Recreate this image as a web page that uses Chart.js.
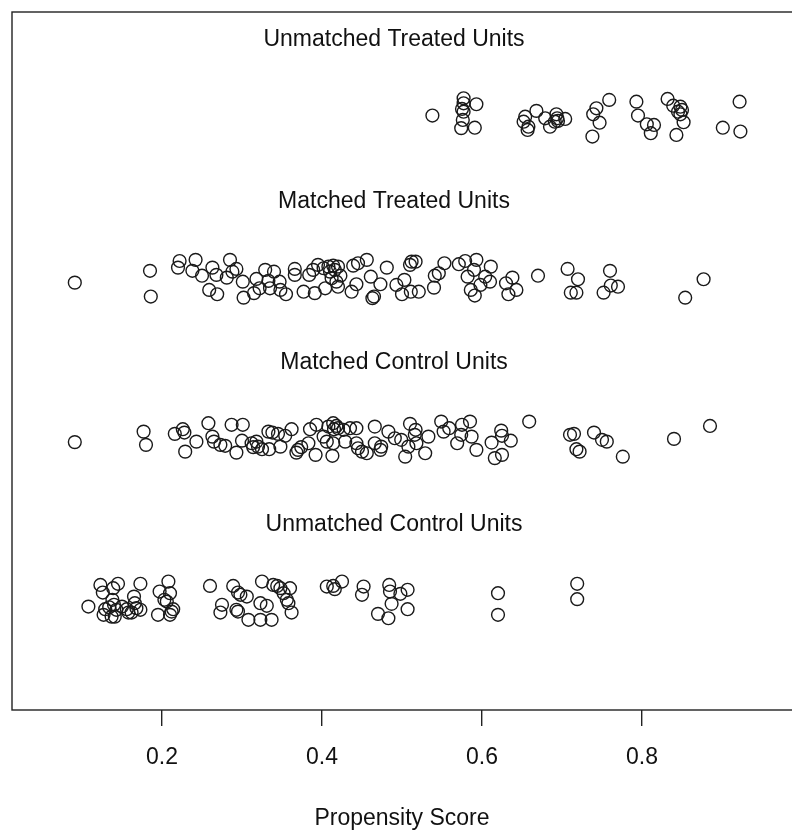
<!DOCTYPE html>
<html>
<head>
<meta charset="utf-8">
<script src="https://cdn.jsdelivr.net/npm/chart.js@4/dist/chart.umd.min.js"></script>
<style>
  body { margin: 0; background: #fff; }
  #wrap { width: 792px; height: 835px; }
</style>
</head>
<body>
<div id="wrap"><canvas id="jitter" width="792" height="835"></canvas></div>
<script>
// group titles and where they sit on the y scale
var groupLabels = ['Unmatched Treated Units', 'Matched Treated Units', 'Matched Control Units', 'Unmatched Control Units'];
var groupLabelY = [4, 3, 2, 1];

var tickValues = [0.2, 0.4, 0.6, 0.8];
var tickLabels = ['0.2', '0.4', '0.6', '0.8'];
var xTitle = 'Propensity Score';

// [propensity score, jittered y]
var unmatchedTreated = [
    [0.538,3.519],[0.577,3.626],[0.577,3.595],[0.575,3.560],[0.577,3.543],[0.576,3.492],[0.574,3.441],
    [0.593,3.589],[0.591,3.444],[0.654,3.512],[0.652,3.481],[0.658,3.450],[0.657,3.430],[0.668,3.548],
    [0.679,3.502],[0.685,3.450],[0.693,3.527],[0.694,3.502],[0.695,3.486],[0.691,3.481],[0.704,3.498],
    [0.759,3.616],[0.743,3.564],[0.739,3.527],[0.747,3.475],[0.738,3.389],[0.793,3.605],[0.795,3.519],
    [0.806,3.465],[0.815,3.461],[0.811,3.410],[0.832,3.622],[0.839,3.580],[0.848,3.574],[0.850,3.554],
    [0.848,3.527],[0.852,3.478],[0.843,3.399],[0.845,3.543],[0.922,3.605],[0.901,3.444],[0.923,3.420]
];

var matchedTreated = [
    [0.091,2.485],[0.185,2.558],[0.186,2.399],[0.222,2.619],[0.220,2.578],[0.242,2.626],[0.238,2.558],
    [0.250,2.528],[0.263,2.578],[0.268,2.533],[0.259,2.440],[0.269,2.413],[0.285,2.626],[0.281,2.516],
    [0.288,2.553],[0.293,2.570],[0.301,2.491],[0.302,2.392],[0.315,2.420],[0.318,2.508],[0.322,2.450],
    [0.329,2.564],[0.333,2.496],[0.335,2.450],[0.340,2.553],[0.347,2.491],[0.348,2.440],[0.355,2.413],
    [0.366,2.570],[0.366,2.533],[0.377,2.429],[0.384,2.533],[0.389,2.564],[0.391,2.420],[0.395,2.595],
    [0.402,2.574],[0.404,2.450],[0.408,2.584],[0.410,2.553],[0.412,2.512],[0.414,2.590],[0.416,2.564],
    [0.418,2.491],[0.420,2.584],[0.420,2.460],[0.423,2.528],[0.437,2.429],[0.439,2.590],[0.443,2.475],
    [0.445,2.605],[0.456,2.626],[0.461,2.522],[0.463,2.389],[0.465,2.399],[0.473,2.475],[0.481,2.578],
    [0.493,2.471],[0.503,2.502],[0.500,2.413],[0.510,2.595],[0.512,2.615],[0.517,2.615],[0.511,2.429],
    [0.521,2.429],[0.540,2.454],[0.541,2.528],[0.546,2.543],[0.553,2.605],[0.571,2.599],[0.579,2.619],
    [0.582,2.522],[0.586,2.440],[0.590,2.564],[0.593,2.626],[0.591,2.405],[0.598,2.471],[0.604,2.522],
    [0.611,2.584],[0.610,2.491],[0.630,2.481],[0.633,2.413],[0.638,2.516],[0.643,2.440],[0.670,2.528],
    [0.707,2.570],[0.720,2.506],[0.711,2.423],[0.718,2.423],[0.760,2.558],[0.761,2.467],[0.770,2.460],
    [0.752,2.423],[0.877,2.506],[0.854,2.392]
];

var matchedControl = [
    [0.091,1.498],[0.177,1.563],[0.180,1.481],[0.216,1.549],[0.226,1.578],[0.228,1.557],[0.243,1.501],
    [0.229,1.439],[0.258,1.615],[0.263,1.532],[0.265,1.501],[0.273,1.481],[0.279,1.475],[0.287,1.605],
    [0.301,1.605],[0.293,1.433],[0.300,1.507],[0.312,1.491],[0.314,1.467],[0.318,1.501],[0.320,1.470],
    [0.325,1.454],[0.333,1.563],[0.334,1.454],[0.338,1.557],[0.345,1.549],[0.348,1.470],[0.354,1.537],
    [0.362,1.578],[0.368,1.433],[0.370,1.450],[0.374,1.467],[0.385,1.578],[0.383,1.491],[0.393,1.605],
    [0.392,1.419],[0.402,1.532],[0.406,1.501],[0.408,1.594],[0.414,1.615],[0.415,1.578],[0.418,1.598],
    [0.420,1.584],[0.413,1.413],[0.414,1.491],[0.427,1.574],[0.429,1.501],[0.435,1.584],[0.443,1.584],
    [0.443,1.491],[0.445,1.460],[0.450,1.439],[0.456,1.429],[0.466,1.594],[0.466,1.491],[0.474,1.470],
    [0.473,1.450],[0.483,1.563],[0.491,1.522],[0.499,1.512],[0.504,1.408],[0.508,1.470],[0.510,1.611],
    [0.517,1.574],[0.516,1.543],[0.518,1.491],[0.529,1.429],[0.533,1.532],[0.549,1.625],[0.552,1.563],
    [0.559,1.584],[0.569,1.491],[0.574,1.543],[0.575,1.605],[0.585,1.625],[0.587,1.532],[0.593,1.450],
    [0.612,1.495],[0.624,1.569],[0.625,1.537],[0.636,1.507],[0.616,1.399],[0.625,1.419],[0.659,1.625],
    [0.710,1.543],[0.715,1.549],[0.718,1.454],[0.722,1.439],[0.740,1.557],[0.750,1.512],[0.756,1.501],
    [0.776,1.408],[0.840,1.518],[0.885,1.598]
];

var unmatchedControl = [
    [0.108,0.480],[0.123,0.614],[0.126,0.567],[0.129,0.464],[0.127,0.429],[0.134,0.476],[0.137,0.418],
    [0.139,0.594],[0.145,0.621],[0.138,0.522],[0.140,0.491],[0.143,0.460],[0.141,0.418],[0.150,0.480],
    [0.156,0.464],[0.158,0.443],[0.165,0.542],[0.166,0.501],[0.168,0.470],[0.173,0.460],[0.173,0.621],
    [0.162,0.443],[0.197,0.573],[0.203,0.522],[0.208,0.635],[0.206,0.511],[0.210,0.563],[0.195,0.429],
    [0.210,0.429],[0.214,0.464],[0.212,0.449],[0.260,0.608],[0.275,0.491],[0.273,0.443],[0.289,0.608],
    [0.295,0.567],[0.298,0.553],[0.306,0.542],[0.293,0.460],[0.295,0.449],[0.308,0.398],[0.323,0.398],
    [0.337,0.398],[0.323,0.501],[0.331,0.485],[0.325,0.635],[0.339,0.614],[0.344,0.608],[0.348,0.594],
    [0.352,0.563],[0.360,0.594],[0.356,0.522],[0.358,0.501],[0.362,0.443],[0.406,0.604],[0.414,0.608],
    [0.416,0.588],[0.425,0.635],[0.452,0.604],[0.450,0.553],[0.484,0.614],[0.485,0.573],[0.498,0.559],
    [0.507,0.584],[0.487,0.497],[0.507,0.464],[0.470,0.435],[0.483,0.408],[0.620,0.563],[0.620,0.429],
    [0.719,0.621],[0.719,0.526]
];

function toPoints(arr) {
    return arr.map(function (p) { return {x: p[0], y: p[1]}; });
}

function groupSet(arr) {
    return {
        data: toPoints(arr),
        pointStyle: 'circle',
        pointRadius: 6.4,
        pointHoverRadius: 6.4,
        borderWidth: 1.4,
        borderColor: '#1a1a1a',
        backgroundColor: 'rgba(0,0,0,0)'
    };
}

var FONT = '"Liberation Sans", Arial, Helvetica, sans-serif';

// box around the plot region (right side runs off the canvas)
var framePlugin = {
    id: 'frame',
    afterDraw: function (chart) {
        var a = chart.chartArea;
        var ctx = chart.ctx;
        ctx.save();
        ctx.strokeStyle = '#222';
        ctx.lineWidth = 1.4;
        ctx.strokeRect(a.left, a.top, a.right - a.left + 20, a.bottom - a.top);
        ctx.restore();
    }
};

var groupTitlePlugin = {
    id: 'groupTitles',
    afterDraw: function (chart) {
        var ctx = chart.ctx;
        var xs = chart.scales.x, ys = chart.scales.y;
        ctx.save();
        ctx.font = '23px ' + FONT;
        ctx.fillStyle = '#111';
        ctx.textAlign = 'center';
        ctx.textBaseline = 'middle';
        for (var i = 0; i < groupLabels.length; i++) {
            ctx.fillText(groupLabels[i], xs.getPixelForValue(0.49), ys.getPixelForValue(groupLabelY[i]) + 2);
        }
        ctx.restore();
    }
};

var ctx = document.getElementById('jitter');
var jitterChart = new Chart(ctx, {
    type: 'scatter',
    data: {
        datasets: [
            groupSet(unmatchedTreated),
            groupSet(matchedTreated),
            groupSet(matchedControl),
            groupSet(unmatchedControl)
        ]
    },
    options: {
        responsive: false,
        animation: false,
        events: [],
        layout: { autoPadding: false, padding: { left: 12, top: 12, right: 0, bottom: 0 } },
        plugins: {
            legend: { display: false },
            tooltip: { enabled: false }
        },
        scales: {
            x: {
                type: 'linear',
                min: 0.0125,
                max: 0.9875,
                afterBuildTicks: function (scale) {
                    scale.ticks = tickValues.map(function (v) { return {value: v}; });
                },
                afterFit: function (scale) { scale.height = 125; },
                grid: {
                    display: true,
                    drawOnChartArea: false,
                    drawTicks: true,
                    tickLength: 16,
                    color: '#222',
                    lineWidth: 1.4
                },
                border: { display: false },
                ticks: {
                    padding: 18,
                    color: '#111',
                    maxRotation: 0,
                    font: { family: FONT, size: 23 },
                    callback: function (value, index) { return tickLabels[index]; }
                },
                title: {
                    display: true,
                    text: xTitle,
                    color: '#111',
                    font: { family: FONT, size: 23 },
                    padding: { top: 0, bottom: 3 }
                }
            },
            y: {
                type: 'linear',
                display: false,
                min: -0.16,
                max: 4.16
            }
        }
    },
    plugins: [framePlugin, groupTitlePlugin]
});
</script>
</body>
</html>
